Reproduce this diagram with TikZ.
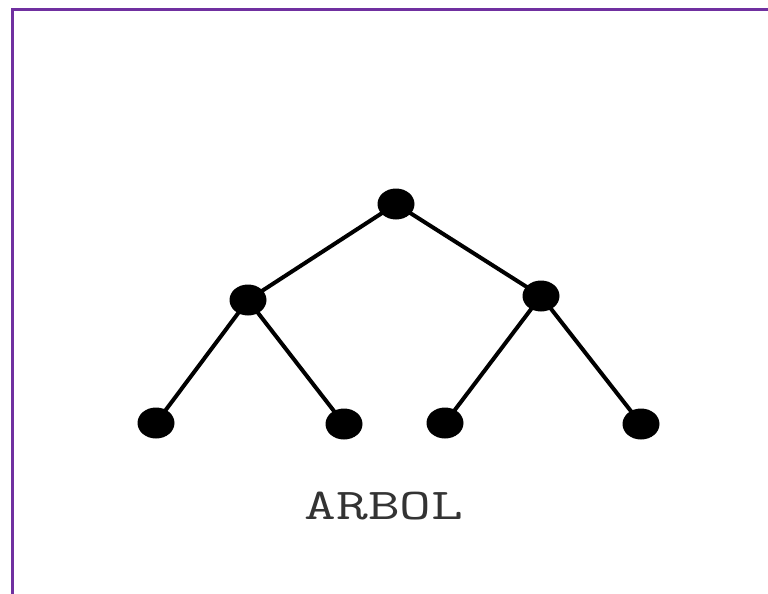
\documentclass[tikz,border=0pt]{standalone}
\usepackage{fontspec}
\usetikzlibrary{shapes.geometric}
\definecolor{frame}{HTML}{7030A0}
\begin{document}
\begin{tikzpicture}[x=1pt,y=-1pt,
  vert/.style={ellipse,fill=black,minimum width=37pt,minimum height=31pt,inner sep=0pt},
  edge/.style={line width=4pt,black}]
\useasboundingbox (0,0) rectangle (768,594);
\fill[white] (0,0) rectangle (768,594);
\draw[frame,line width=3pt] (12,594) -- (12,10) -- (768,10);
\node[vert] (r) at (396,204) {};
\node[vert] (a) at (248,300) {};
\node[vert] (b) at (541,296) {};
\node[vert] (a1) at (156,423) {};
\node[vert] (a2) at (344,424) {};
\node[vert] (b1) at (445,423) {};
\node[vert] (b2) at (641,424) {};
\draw[edge] (r.center) -- (a.center);
\draw[edge] (r.center) -- (b.center);
\draw[edge] (a.center) -- (a1.center);
\draw[edge] (a.center) -- (a2.center);
\draw[edge] (b.center) -- (b1.center);
\draw[edge] (b.center) -- (b2.center);
\node[xscale=1.4,font=\ttfamily\fontsize{44}{44}\selectfont,text=black!80] (t) at (384,506) {ARBOL};
\end{tikzpicture}
\end{document}
